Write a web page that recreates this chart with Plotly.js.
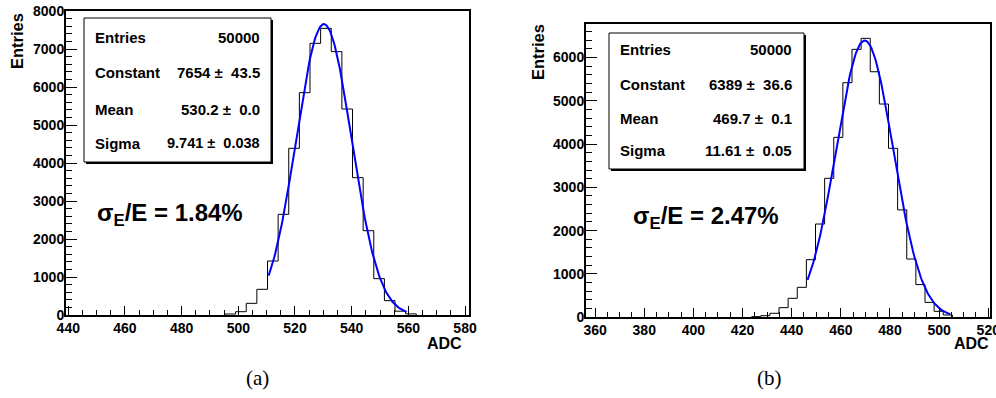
<!DOCTYPE html>
<html>
<head>
<meta charset="utf-8">
<script src="https://cdn.plot.ly/plotly-3.0.1.min.js"></script>
<style>html,body{margin:0;padding:0;background:#fff;}#chart{width:996px;height:398px;}</style>
</head>
<body>
<div id="chart"></div>
<script>
// ---------------- data ----------------
// panel (a)
const binStartA = 495.3;
const binWidthA = 3.75;
const countsA = [26, 87, 307, 676, 1421, 2649, 4386, 5851, 7149, 7544, 6930, 5421, 3614, 2219, 956, 377, 100, 30];
const fitA = {constant: 7654, mean: 530.2, sigma: 9.741};
const statsLabelsA = ["Entries", "Constant", "Mean", "Sigma"];
const statsValuesA = ["50000", "7654 ± 43.5", "530.2 ± 0.0", "9.741 ± 0.038"];
const resolutionA = "1.84%";
// panel (b)
const binStartB = 423.7;
const binWidthB = 3.713;
const countsB = [15, 37, 92, 222, 438, 692, 1330, 2153, 3208, 4154, 5415, 6185, 6439, 5668, 4923, 3900, 2480, 1345, 755, 345, 138, 53];
const fitB = {constant: 6389, mean: 469.7, sigma: 11.61};
const statsLabelsB = ["Entries", "Constant", "Mean", "Sigma"];
const statsValuesB = ["50000", "6389 ± 36.6", "469.7 ± 0.1", "11.61 ± 0.05"];
const resolutionB = "2.47%";
const xTitle = "ADC";
const yTitle = "Entries";
const captions = ["(a)", "(b)"];

// ---------------- helpers ----------------
const W = 996, H = 398;
const px = x => x / W;
const py = y => 1 - y / H;
const FONT = "Liberation Sans, Arial, Helvetica, sans-serif";
const NB = "\u00a0";

function stepTrace(start, width, counts, xa, ya) {
  const xs = [start], ys = [0];
  for (let i = 0; i < counts.length; i++) { xs.push(start + i * width); ys.push(counts[i]); }
  xs.push(start + counts.length * width); ys.push(0);
  return {x: xs, y: ys, type: 'scatter', mode: 'lines', xaxis: xa, yaxis: ya,
    line: {color: '#000', width: 1, shape: 'hv'}, hoverinfo: 'skip', showlegend: false};
}
function fitTrace(p, xa, ya) {
  const lo = p.mean - 2 * p.sigma, hi = p.mean + 3 * p.sigma, n = 150;
  const xs = [], ys = [];
  for (let i = 0; i <= n; i++) {
    const x = lo + (hi - lo) * i / n;
    xs.push(x);
    ys.push(p.constant * Math.exp(-0.5 * Math.pow((x - p.mean) / p.sigma, 2)));
  }
  return {x: xs, y: ys, type: 'scatter', mode: 'lines', xaxis: xa, yaxis: ya,
    line: {color: '#0000ff', width: 2}, hoverinfo: 'skip', showlegend: false};
}

const data = [
  stepTrace(binStartA, binWidthA, countsA, 'x', 'y'),
  fitTrace(fitA, 'x', 'y'),
  stepTrace(binStartB, binWidthB, countsB, 'x2', 'y2'),
  fitTrace(fitB, 'x2', 'y2')
];

const tickFont = {family: FONT, size: 14, color: '#000', weight: 700};
function xAxis(domain, range, anchor) {
  return {domain: domain, range: range, anchor: anchor, showgrid: false, zeroline: false,
    showline: true, mirror: true, linecolor: '#000', linewidth: 2,
    ticks: 'inside', ticklen: 9, tickwidth: 1, tickcolor: '#000', dtick: 20, tick0: 0,
    ticklabeloverflow: 'allow', ticklabelstandoff: -1,
    minor: {dtick: 5, ticks: 'inside', ticklen: 5, tickwidth: 1, tickcolor: '#000', showgrid: false},
    tickfont: tickFont, fixedrange: true};
}
function yAxis(domain, range, anchor) {
  return {domain: domain, range: range, anchor: anchor, showgrid: false, zeroline: false,
    showline: true, mirror: true, linecolor: '#000', linewidth: 2,
    ticks: 'inside', ticklen: 11, tickwidth: 1, tickcolor: '#000', dtick: 1000, tick0: 0,
    ticklabeloverflow: 'allow', ticklabelstandoff: -3,
    minor: {dtick: 200, ticks: 'inside', ticklen: 6, tickwidth: 1, tickcolor: '#000', showgrid: false},
    tickfont: tickFont, fixedrange: true};
}

const shapes = [];
const annotations = [];
function statsBox(x0, y0, x1, y1, labelX, valueX, rowYs, labels, values, valSizes) {
  shapes.push({type: 'rect', xref: 'paper', yref: 'paper', x0: px(x0 + 2), x1: px(x1 + 2), y0: py(y1 + 2), y1: py(y0 + 2),
    fillcolor: '#000', line: {width: 0}});
  shapes.push({type: 'rect', xref: 'paper', yref: 'paper', x0: px(x0), x1: px(x1), y0: py(y1), y1: py(y0),
    fillcolor: '#fff', line: {color: '#000', width: 1}});
  for (let i = 0; i < labels.length; i++) {
    annotations.push({xref: 'paper', yref: 'paper', x: px(labelX), y: py(rowYs[i]), xanchor: 'left', yanchor: 'middle',
      text: labels[i], showarrow: false, font: {family: FONT, size: 15, color: '#000', weight: 700}});
    const v = values[i].replace(' ± ', NB + '±' + NB + NB);
    annotations.push({xref: 'paper', yref: 'paper', x: px(valueX), y: py(rowYs[i]), xanchor: 'right', yanchor: 'middle',
      text: v, showarrow: false, font: {family: FONT, size: valSizes[i], color: '#000', weight: 700}});
  }
}
statsBox(84, 18, 271, 162, 93, 262, [37, 72, 109, 143], statsLabelsA, statsValuesA, [15, 15, 15, 14.5]);
statsBox(609, 33, 804, 169, 618, 794, [50, 84, 118, 151], statsLabelsB, statsValuesB, [15, 15, 15, 15]);

function sigmaText(x, y, val) {
  annotations.push({xref: 'paper', yref: 'paper', x: px(x), y: py(y), xanchor: 'left', yanchor: 'middle',
    text: 'σ<sub>E</sub>/E = ' + val, showarrow: false,
    font: {family: FONT, size: 24, color: '#000', weight: 700}});
}
sigmaText(95, 215, resolutionA);
sigmaText(631, 217, resolutionB);

[[17, 41], [538, 52]].forEach(p => annotations.push({xref: 'paper', yref: 'paper', x: px(p[0]), y: py(p[1]),
  xanchor: 'center', yanchor: 'middle', textangle: -90, text: yTitle, showarrow: false,
  font: {family: FONT, size: 16.5, color: '#000', weight: 700}}));
[[464, 343], [991, 343]].forEach(p => annotations.push({xref: 'paper', yref: 'paper', x: px(p[0]), y: py(p[1]),
  xanchor: 'right', yanchor: 'middle', text: xTitle, showarrow: false,
  font: {family: FONT, size: 16, color: '#000', weight: 700}}));
[[257, 378], [769, 378]].forEach((p, i) => annotations.push({xref: 'paper', yref: 'paper', x: px(p[0]), y: py(p[1]),
  xanchor: 'center', yanchor: 'middle', text: captions[i], showarrow: false,
  font: {family: "Liberation Serif, Times New Roman, serif", size: 21, color: '#000'}}));

const layout = {
  width: W, height: H, margin: {l: 0, r: 0, t: 0, b: 0},
  paper_bgcolor: '#fff', plot_bgcolor: '#fff', showlegend: false,
  xaxis: xAxis([px(66), px(469)], [439.2, 581.4], 'y'),
  yaxis: yAxis([py(315), py(11)], [0, 8000], 'x'),
  xaxis2: xAxis([px(586), px(990)], [356.3, 520.7], 'y2'),
  yaxis2: yAxis([py(317.3), py(24)], [0, 6770], 'x2'),
  shapes: shapes, annotations: annotations
};
Plotly.newPlot('chart', data, layout, {staticPlot: true, displayModeBar: false});
</script>
</body>
</html>
